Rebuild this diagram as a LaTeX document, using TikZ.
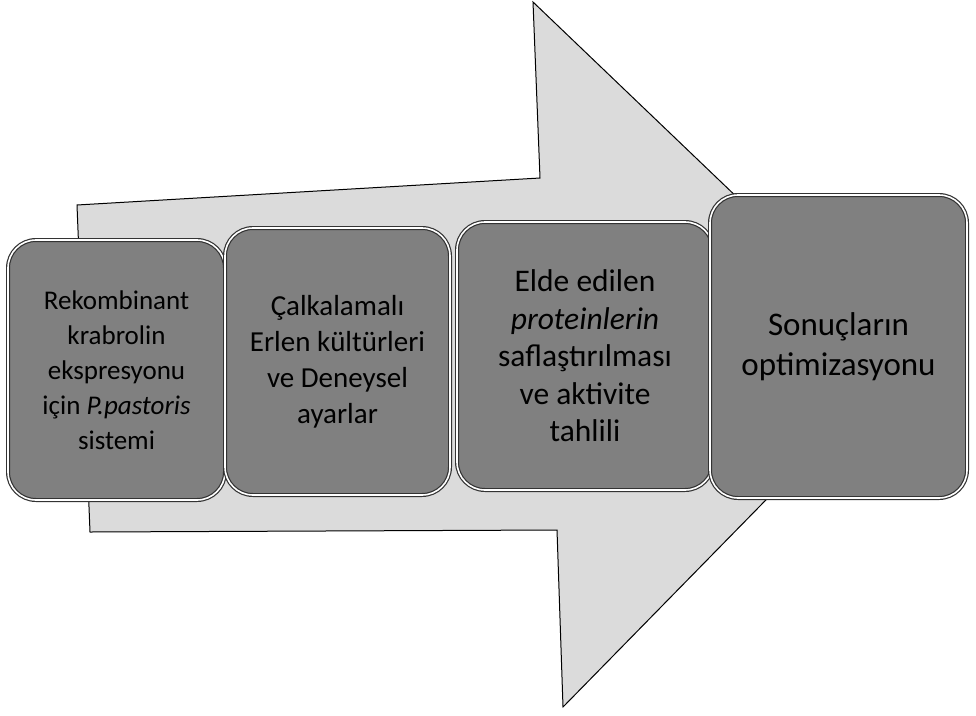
\documentclass[tikz,border=0pt]{standalone}
\usepackage{fontspec}
\setmainfont{Carlito}
\begin{document}
\begin{tikzpicture}[x=1pt,y=-1pt,
  stagebox/.style={draw=black!80, double=white, double distance=1.6pt, line width=1.2pt,
    fill=black!50, rounded corners=28pt, align=center, inner sep=4pt, text=black},
  bigarrow/.style={draw=black, line width=1pt, fill=black!14}]
\useasboundingbox (0,0) rectangle (976,715);
\fill[white] (0,0) rectangle (976,715);
\draw[bigarrow] (77,205) -- (540,178) -- (533,2) -- (905,358) -- (563,707) -- (557,530) -- (90,532) -- cycle;
\node[stagebox, minimum width=217pt, minimum height=260pt, font=\fontsize{27}{35}\selectfont] (s1) at (116.5,370)
  {Rekombinant\\krabrolin\\ekspresyonu\\için \textit{P.pastoris}\\sistemi};
\node[stagebox, minimum width=225pt, minimum height=267pt, font=\fontsize{29}{36}\selectfont] (s2) at (337.5,361.5)
  {Çalkalamalı\\Erlen kültürleri\\ve Deneysel\\ayarlar};
\node[stagebox, minimum width=256pt, minimum height=268pt, font=\fontsize{31.5}{37.5}\selectfont] (s3) at (585,356)
  {Elde edilen\\\textit{proteinlerin}\\saflaştırılması\\ve aktivite\\tahlili};
\node[stagebox, minimum width=257pt, minimum height=303pt, font=\fontsize{33}{40}\selectfont] (s4) at (838.5,346.5)
  {Sonuçların\\optimizasyonu};
\end{tikzpicture}
\end{document}
